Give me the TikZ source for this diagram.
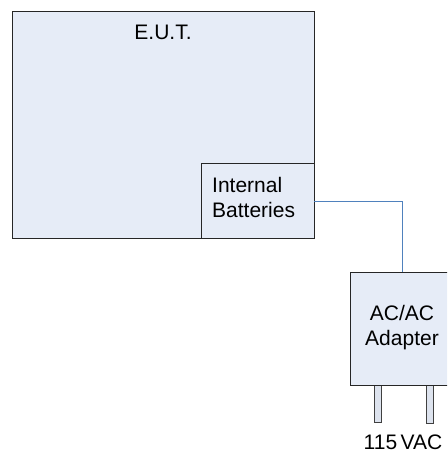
\documentclass[tikz,border=0pt]{standalone}
\usepackage{fontspec}
\setmainfont{Liberation Sans}
\definecolor{boxfill}{HTML}{E6ECF7}
\definecolor{prongfill}{HTML}{DDE3EE}
\definecolor{wire}{HTML}{4F81BD}
\begin{document}
\begin{tikzpicture}[x=1pt,y=-1pt,
  blockbox/.style={draw=black!85,fill=boxfill,line width=0.9pt},
  prongbox/.style={draw=black!75,fill=prongfill,line width=0.9pt},
  lbl/.style={font=\fontsize{21}{25}\selectfont,inner sep=0pt,align=left},
  lblc/.style={font=\fontsize{21}{25}\selectfont,inner sep=0pt,align=center}]
\useasboundingbox (0,0) rectangle (447,452);
\clip (0,0) rectangle (447,452);
\fill[white] (0,0) rectangle (447,452);
% main EUT box
\draw[blockbox] (12,11) rectangle (314,238);
\coordinate (eutn) at (163,32);
\node[lblc] (eut) at (eutn) {E.U.T.};
% internal batteries
\draw[blockbox] (201,163) rectangle (314,238);
\node (batt) at (257.5,200.5) [minimum width=113pt,minimum height=75pt,inner sep=0pt] {};
\node[lbl,anchor=west] (battlbl) at (212,197) {Internal\\Batteries};
% adapter
\draw[prongbox] (374.5,384) rectangle (381.5,422);
\draw[prongbox] (426.5,384) rectangle (433.5,423);
\draw[blockbox] (350,272) rectangle (470,385);
\node (adapter) at (410,328.5) [minimum width=120pt,minimum height=113pt,inner sep=0pt] {};
\node[lblc] (adlbl) at (402,328) {AC/AC\\Adapter};
\node[lblc] (vac) at (403,442) {115\,VAC};
% wire
\coordinate (bend) at (402,201);
\draw[wire,line width=0.9pt] (batt.east |- bend) -- (bend) -- (bend |- adapter.north);
\end{tikzpicture}
\end{document}
